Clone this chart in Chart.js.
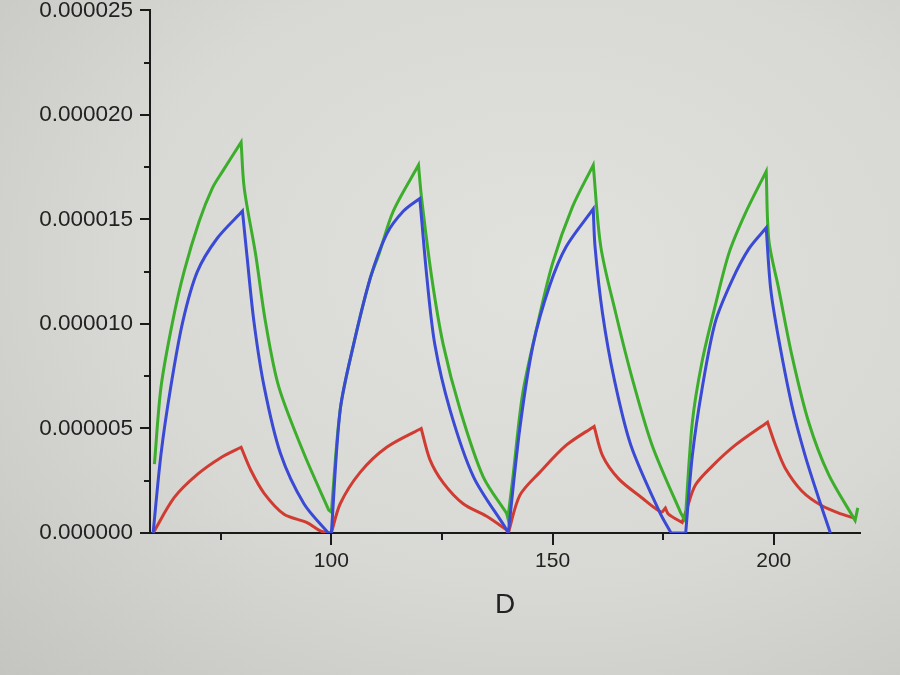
<!DOCTYPE html>
<html>
<head>
<meta charset="utf-8">
<title>D</title>
<script src="https://cdn.jsdelivr.net/npm/chart.js@4.4.0/dist/chart.umd.min.js"></script>
<style>
    html, body { margin: 0; padding: 0; }
    body {
        width: 900px;
        height: 675px;
        overflow: hidden;
        background: radial-gradient(ellipse at 60% 40%, #e1e1de 0%, #d8d8d4 55%, #c4c4c0 100%);
    }
    #wrap { position: relative; width: 900px; height: 675px; }
</style>
</head>
<body>
<div id="wrap"><canvas id="chart"></canvas></div>
<script>
// values, y in units of 1e-6
const greenX = [60, 61.5, 64.1, 66.7, 70.1, 73.1, 75.4, 79.6, 80.3, 82.9, 85.1, 88.1, 93.8, 99.4,
    100, 102, 105, 108.8, 110.7, 114, 119.7, 120.4, 122.7, 125.3, 129.1, 134.3, 139.6,
    139.9, 141, 143.2, 146.3, 150, 154.5, 159.2, 160.9, 164.3, 168, 172.5, 178.9, 179.7,
    180, 181.6, 183.8, 186.8, 189.9, 193.6, 198.3, 198.9, 201.1, 204.1, 207.9, 212.4, 218.4, 219];
const greenY = [3.3, 7.0, 10.1, 12.5, 14.9, 16.5, 17.3, 18.7, 16.5, 13.3, 10.1, 7.0, 3.8, 1.1,
    1.0, 5.9, 9.0, 12.2, 13.3, 15.4, 17.6, 16.0, 12.2, 9.0, 5.9, 2.7, 0.95,
    0.7, 2.6, 6.6, 9.7, 12.9, 15.6, 17.6, 13.7, 10.5, 7.4, 4.2, 1.0, 0.7,
    0.6, 5.3, 8.2, 10.9, 13.4, 15.3, 17.3, 14.0, 11.7, 8.5, 5.3, 2.8, 0.6, 1.2];
const greenCorners = [79.6, 99.4, 100, 119.7, 139.6, 139.9, 159.2, 179.7, 180, 198.3, 218.4];

const blueX = [59.7, 61.5, 63.7, 66.4, 69.7, 74.2, 79.9, 80.9, 82.5, 84.8, 88.5, 93.8, 99.3,
    100, 102, 105, 108.8, 112.5, 116.3, 120, 121.6, 123.4, 126.8, 132.1, 139.2,
    140, 142.6, 145.6, 149.3, 153.1, 159.2, 159.6, 161.3, 163.9, 167.7, 174.2, 176.8,
    180.1, 181.6, 183.8, 186.8, 190.6, 194.4, 198.3, 199.3, 201.1, 204.1, 207.1, 210.1, 212.8];
const blueY = [0, 3.8, 7.0, 10.1, 12.5, 14.1, 15.4, 13.3, 10.1, 7.0, 3.8, 1.4, 0,
    0, 5.9, 9.0, 12.2, 14.3, 15.4, 16.0, 12.2, 9.0, 5.9, 2.7, 0.3,
    0, 5.0, 9.0, 11.8, 13.7, 15.5, 13.7, 10.5, 7.4, 4.2, 1.0, 0,
    0, 3.7, 6.9, 10.1, 12.1, 13.6, 14.6, 11.7, 9.3, 6.1, 3.7, 1.7, 0];
const blueCorners = [79.9, 99.3, 100, 120, 139.2, 140, 159.2, 176.8, 180.1, 198.3];

const redX = [59.7, 64.5, 69.7, 75, 79.6, 81.8, 84.8, 89.3, 94.5, 97.5, 99.6,
    100, 102, 106.5, 112.5, 120.3, 122.3, 125.3, 129.8, 135.1, 139.6,
    140, 142.6, 147.1, 153.1, 159.4, 161.3, 164.9, 170.1, 174.6, 175.5, 176.2, 179.3,
    180.4, 182.3, 186.1, 191.3, 198.6, 200.4, 202.6, 206.4, 210.9, 215.4, 218.4];
const redY = [0, 1.7, 2.8, 3.6, 4.1, 3.0, 1.9, 0.9, 0.5, 0.1, 0,
    0, 1.4, 2.9, 4.1, 5.0, 3.5, 2.4, 1.4, 0.8, 0.15,
    0, 1.8, 2.9, 4.2, 5.1, 3.7, 2.6, 1.7, 1.0, 1.2, 0.9, 0.5,
    1.2, 2.3, 3.2, 4.2, 5.3, 4.2, 3.1, 2.0, 1.3, 0.9, 0.7];
const redCorners = [79.6, 99.6, 100, 120.3, 139.6, 140, 159.4, 175.5, 179.3, 180.4, 198.6];

const xMajorTicks = [100, 150, 200];
const xMinorTicks = [75, 125, 175];
const yMajorTicks = [0, 5, 10, 15, 20, 25];
const yMinorTicks = [2.5, 7.5, 12.5, 17.5, 22.5];
const xTitle = 'D';

// a corner point is given twice so the smoothing keeps it sharp
function toPoints(xs, ys, corners) {
    const pts = [];
    xs.forEach((x, i) => {
        const p = { x: x, y: ys[i] * 1e-6 };
        pts.push(p);
        if (corners.includes(x)) pts.push({ x: p.x, y: p.y });
    });
    return pts;
}

// minor ticks, drawn outward from the axes
const minorTicks = {
    id: 'minorTicks',
    afterDraw(chart) {
        const ctx = chart.ctx;
        const xs = chart.scales.x;
        const ys = chart.scales.y;
        ctx.save();
        ctx.strokeStyle = '#1a1a1a';
        ctx.lineWidth = 2;
        ctx.beginPath();
        xMinorTicks.forEach(v => {
            const px = Math.round(xs.getPixelForValue(v));
            ctx.moveTo(px, ys.bottom);
            ctx.lineTo(px, ys.bottom + 7);
        });
        yMinorTicks.forEach(v => {
            const py = Math.round(ys.getPixelForValue(v * 1e-6));
            ctx.moveTo(xs.left, py);
            ctx.lineTo(xs.left - 6, py);
        });
        ctx.stroke();
        ctx.restore();
    }
};

const lineStyle = { borderWidth: 3, pointRadius: 0, tension: 0.3, fill: false };

new Chart(document.getElementById('chart'), {
    type: 'line',
    data: {
        datasets: [
            Object.assign({ label: 'blue', data: toPoints(blueX, blueY, blueCorners), borderColor: '#3a4ad4' }, lineStyle),
            Object.assign({ label: 'green', data: toPoints(greenX, greenY, greenCorners), borderColor: '#3cae2c' }, lineStyle),
            Object.assign({ label: 'red', data: toPoints(redX, redY, redCorners), borderColor: '#d03c32' }, lineStyle)
        ]
    },
    options: {
        responsive: true,
        maintainAspectRatio: false,
        animation: false,
        layout: { padding: { left: 0, right: 40, top: 0, bottom: 0 } },
        plugins: {
            legend: { display: false },
            tooltip: { enabled: false }
        },
        scales: {
            x: {
                type: 'linear',
                min: 59,
                max: 219.5,
                afterBuildTicks: s => { s.ticks = xMajorTicks.map(v => ({ value: v })); },
                afterFit: s => { s.height = 142; },
                border: { display: true, color: '#1a1a1a', width: 2 },
                grid: { drawOnChartArea: false, drawTicks: true, tickLength: 12, color: '#1a1a1a', lineWidth: 2 },
                ticks: {
                    color: '#222',
                    padding: 4,
                    maxRotation: 0,
                    font: { family: '"Liberation Sans", Arial, sans-serif', size: 21 }
                },
                title: {
                    display: true,
                    text: xTitle,
                    color: '#222',
                    font: { family: '"Liberation Sans", Arial, sans-serif', size: 28 },
                    padding: { top: 0, bottom: 53 }
                }
            },
            y: {
                type: 'linear',
                min: 0,
                max: 0.000025,
                afterBuildTicks: s => { s.ticks = yMajorTicks.map(v => ({ value: v * 1e-6 })); },
                afterFit: s => { s.width = 150; },
                border: { display: true, color: '#1a1a1a', width: 2 },
                grid: { drawOnChartArea: false, drawTicks: true, tickLength: 10, color: '#1a1a1a', lineWidth: 2 },
                ticks: {
                    color: '#222',
                    padding: 7,
                    callback: v => Number(v).toFixed(6),
                    font: { family: '"Liberation Sans", Arial, sans-serif', size: 22.5, lineHeight: 0.3 }
                }
            }
        }
    },
    plugins: [minorTicks]
});
</script>
</body>
</html>
